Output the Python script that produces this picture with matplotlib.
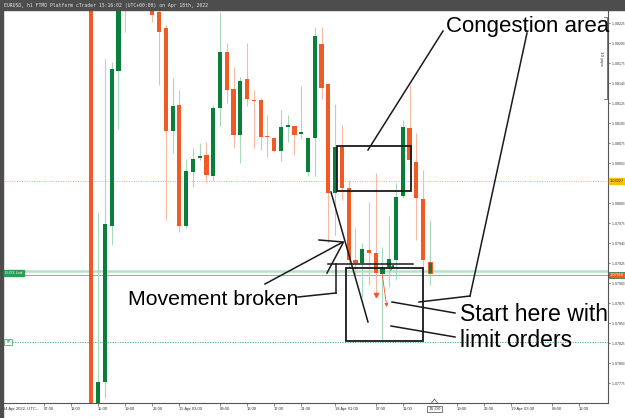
import matplotlib
matplotlib.use("Agg")
import matplotlib.pyplot as plt
from matplotlib.lines import Line2D
from matplotlib.patches import Rectangle

W, H = 625, 418

# EURUSD h1 candles, slot 0 = 14 Apr 2022 00:00 UTC (weekend squeezed out)
slots = list(range(14, 65))
opens = [1.08290, 1.07720, 1.07776, 1.07971, 1.08165, 1.08262, 1.08300, 1.08280, 1.08300, 1.08250,
         1.08238, 1.08218, 1.08090, 1.08122, 1.07971, 1.08038, 1.08056, 1.08060, 1.08033, 1.08118,
         1.08188, 1.08142, 1.08085, 1.08155, 1.08128, 1.08128, 1.08083, 1.08081, 1.08065, 1.08095,
         1.08096, 1.08086, 1.08038, 1.08081, 1.08198, 1.08148, 1.08012, 1.08070, 1.08018, 1.07928,
         1.07925, 1.07941, 1.07937, 1.07911, 1.07920, 1.07928, 1.08008, 1.08093, 1.08051, 1.08005,
         1.07912]
highs = [1.08300, 1.07987, 1.08180, 1.08176, 1.08275, 1.08320, 1.08330, 1.08320, 1.08310, 1.08265,
         1.08245, 1.08222, 1.08156, 1.08141, 1.08055, 1.08068, 1.08075, 1.08076, 1.08122, 1.08238,
         1.08200, 1.08170, 1.08157, 1.08200, 1.08141, 1.08131, 1.08110, 1.08082, 1.08116, 1.08110,
         1.08096, 1.08146, 1.08082, 1.08220, 1.08220, 1.08150, 1.08123, 1.08097, 1.08028, 1.07968,
         1.07950, 1.08001, 1.08037, 1.07945, 1.07983, 1.08025, 1.08103, 1.08147, 1.08087, 1.08041,
         1.07978]
lows = [1.07700, 1.07705, 1.07756, 1.07947, 1.08092, 1.08213, 1.08270, 1.08265, 1.08250, 1.08226,
        1.08147, 1.07978, 1.08062, 1.07963, 1.07968, 1.08020, 1.08053, 1.08025, 1.08028, 1.08096,
        1.08125, 1.08068, 1.08050, 1.08121, 1.08068, 1.08066, 1.08057, 1.08063, 1.08052, 1.08076,
        1.08060, 1.08081, 1.08033, 1.08033, 1.08130, 1.07950, 1.07960, 1.08003, 1.07920, 1.07908,
        1.07882, 1.07897, 1.07885, 1.07828, 1.07895, 1.07903, 1.08006, 1.08047, 1.07953, 1.07912,
        1.07897]
closes = [1.07715, 1.07776, 1.07973, 1.08167, 1.08262, 1.08300, 1.08280, 1.08300, 1.08260, 1.08235,
          1.08213, 1.08090, 1.08121, 1.07971, 1.08040, 1.08055, 1.08058, 1.08035, 1.08118, 1.08188,
          1.08141, 1.08085, 1.08152, 1.08130, 1.08127, 1.08082, 1.08082, 1.08065, 1.08095, 1.08097,
          1.08085, 1.08088, 1.08081, 1.08208, 1.08143, 1.08012, 1.08070, 1.08018, 1.07928, 1.07925,
          1.07942, 1.07937, 1.07912, 1.07920, 1.07930, 1.08007, 1.08095, 1.08053, 1.08006, 1.07928,
          1.07926]

# horizontal price levels
ref_level = 1.08027      # yellow dotted
entry_level = 1.07914    # position line
bid_level = 1.07910
limit_level = 1.07826    # green dotted order line

# 1.08025 sits under the yellow label, so it is left out
price_ticks = [1.07775 + 0.00025 * i for i in range(19) if i != 10]
time_slots = [1, 7, 11, 15, 19, 23, 27, 33, 37, 41, 45, 50, 56, 60, 68, 72, 76, 82, 86]
time_labels = ["14 Apr 2022, UTC...", "07:00", "11:00", "15:00", "19:00", "23:00", "15 Apr 03:00",
               "09:00", "13:00", "17:00", "21:00", "18 Apr 01:00", "07:00", "11:00", "19:00",
               "23:00", "19 Apr 03:00", "09:00", "13:00"]

RED = "#f05a24"
GREEN = "#0a7f3c"
RED_W = "#f8b9a4"
GREEN_W = "#a9d9bd"


def fx(x):
    return x / W


def fy(y):
    return 1 - y / H


def plot():
    fig = plt.figure(figsize=(6.25, 4.18), dpi=100)
    ax = fig.add_axes([2 / W, 15 / H, 606 / W, 393 / H])

    for s, o, h, l, c in zip(slots, opens, highs, lows, closes):
        up = c >= o
        ax.vlines(s, l, h, color=GREEN_W if up else RED_W, lw=0.8, zorder=2)
        ax.bar(s, max(abs(c - o), 0.00001), bottom=min(o, c), width=0.62,
               color=GREEN if up else RED, zorder=3)
    # current candle gets an outline
    ax.bar(slots[-1], abs(closes[-1] - opens[-1]), bottom=min(opens[-1], closes[-1]),
           width=0.62, color=GREEN, ec=RED, lw=0.8, zorder=4)

    ax.axhline(ref_level, color="#f2c200", lw=0.7, ls=(0, (1, 1.5)), zorder=1)
    ax.axhline(entry_level, color="#b8e0c8", lw=1.8, zorder=1)
    ax.axhline(bid_level, color=RED, lw=0.5, zorder=1)
    ax.axhline(limit_level, color="#3aa86a", lw=0.6, ls=(0, (1.5, 1.5)), zorder=1)

    # deal markers
    ax.plot(56, 1.07884, marker="v", ms=3, color=RED, zorder=5)
    ax.annotate("", xy=(57.7, 1.07866), xytext=(56.9, 1.07914),
                arrowprops=dict(arrowstyle="-|>", color=RED, lw=0.6, mutation_scale=5), zorder=5)
    ax.annotate("", xy=(58.9, 1.07926), xytext=(58.0, 1.07912),
                arrowprops=dict(arrowstyle="-|>", color=GREEN, lw=0.6, mutation_scale=4), zorder=5)

    ax.set_xlim(0.8, 90.31)
    ax.set_ylim(1.077495, 1.0824075)

    ax.yaxis.tick_right()
    ax.set_yticks(price_ticks)
    ax.set_yticklabels(["%.4f$_{%d}$" % (int(v * 10000) / 10000.0, round(v * 100000) % 10)
                        for v in price_ticks], fontsize=2.6, color="#333333",
                       family="Liberation Sans")
    ax.set_xticks(time_slots)
    ax.set_xticklabels(time_labels, fontsize=3.0, color="#333333", family="Liberation Sans")
    for lbl in ax.get_xticklabels():
        lbl.set_horizontalalignment("left")
    ax.tick_params(axis="x", length=2, width=0.5, color="#555555", pad=0.8)
    ax.tick_params(axis="y", length=1.5, width=0.5, color="#555555", pad=0.4)
    for side in ["top", "left"]:
        ax.spines[side].set_visible(False)
    for side in ["right", "bottom"]:
        ax.spines[side].set_color("#555555")
        ax.spines[side].set_linewidth(0.8)

    # header bar and left strip
    fig.add_artist(Rectangle((0, fy(10)), 1, 10 / H, color="#4d4d4d", zorder=10))
    fig.add_artist(Rectangle((0, 0), 2.5 / W, 1, color="#4d4d4d", zorder=10))
    fig.text(fx(4), fy(5), "EURUSD, h1 FTMO Platform cTrader 15:16:02 (UTC+00:00) on Apr 18th, 2022",
             family="DejaVu Sans Mono", fontsize=3.4, color="#e6e6e6", va="center", zorder=11)

    # price labels on the axis
    fig.text(fx(610), fy(181), "1.08027", fontsize=2.8, color="#333333", va="center", zorder=12,
             family="Liberation Sans",
             bbox=dict(boxstyle="square,pad=0.3", fc="#f5c400", ec="#f5c400"))
    fig.text(fx(610), fy(275), "1.07910", fontsize=2.8, color="white", va="center", zorder=12,
             family="Liberation Sans",
             bbox=dict(boxstyle="square,pad=0.3", fc=RED, ec=GREEN, lw=0.5))
    fig.text(fx(5), fy(273), "0.01 Lot", fontsize=3.2, color="white", va="center", zorder=12,
             bbox=dict(boxstyle="square,pad=0.25", fc="#2e9a5c", ec="#2e9a5c"))
    fig.text(fx(5), fy(342), "TP", fontsize=3.2, color="#2e9a5c", va="center", zorder=12,
             bbox=dict(boxstyle="square,pad=0.3", fc="white", ec="#2e9a5c", lw=0.5))

    # current time marker
    fig.text(fx(434.5), fy(409), "15:00", fontsize=3.2, color="#333333", ha="center", va="center",
             zorder=12, bbox=dict(boxstyle="square,pad=0.3", fc="white", ec="#444444", lw=0.5))
    fig.add_artist(Line2D([fx(431.5), fx(434.5), fx(437.5)], [fy(403), fy(399), fy(403)],
                          color="#444444", lw=0.5, zorder=12))

    # 10 pips ruler
    fig.add_artist(Line2D([fx(603.5), fx(606.5), fx(606.5), fx(603.5)],
                          [fy(17), fy(17), fy(99), fy(99)], color="#444444", lw=0.5))
    fig.text(fx(601), fy(58), "10 pips", fontsize=3, color="#333333", rotation=270,
             ha="center", va="center")

    # hand drawn annotations
    box = dict(fill=False, ec="#1a1a1a", lw=1.3, zorder=8)
    fig.add_artist(Rectangle((fx(337), fy(191)), 74 / W, 45 / H, **box))
    fig.add_artist(Rectangle((fx(346), fy(341)), 77 / W, 73 / H, **box))
    segs = [
        ((443, 31), (368, 150)),
        ((527, 33), (470, 296)),
        ((470, 296), (419, 302)),
        ((392, 302), (455, 313)),
        ((391, 326), (455, 337)),
        ((331, 192), (368, 322)),
        ((328, 263.5), (413, 263.5)),
        ((265, 284), (343, 242)),
        ((319, 240), (343, 242)),
        ((327, 273), (343, 243)),
        ((298, 297), (336, 293)),
        ((336, 293), (336, 264)),
    ]
    for (x1, y1), (x2, y2) in segs:
        fig.add_artist(Line2D([fx(x1), fx(x2)], [fy(y1), fy(y2)], color="#1a1a1a", lw=1.1, zorder=8))

    txt = dict(family="Liberation Sans", color="black", va="baseline", zorder=9)
    fig.text(fx(446), fy(32), "Congestion area", fontsize=16, **txt)
    fig.text(fx(128), fy(305), "Movement broken", fontsize=15.3, **txt)
    fig.text(fx(460), fy(321), "Start here with", fontsize=16.6, **txt)
    fig.text(fx(460), fy(347), "limit orders", fontsize=16.6, **txt)

    fig.savefig("out.png", dpi=100)


if __name__ == "__main__":
    plot()
